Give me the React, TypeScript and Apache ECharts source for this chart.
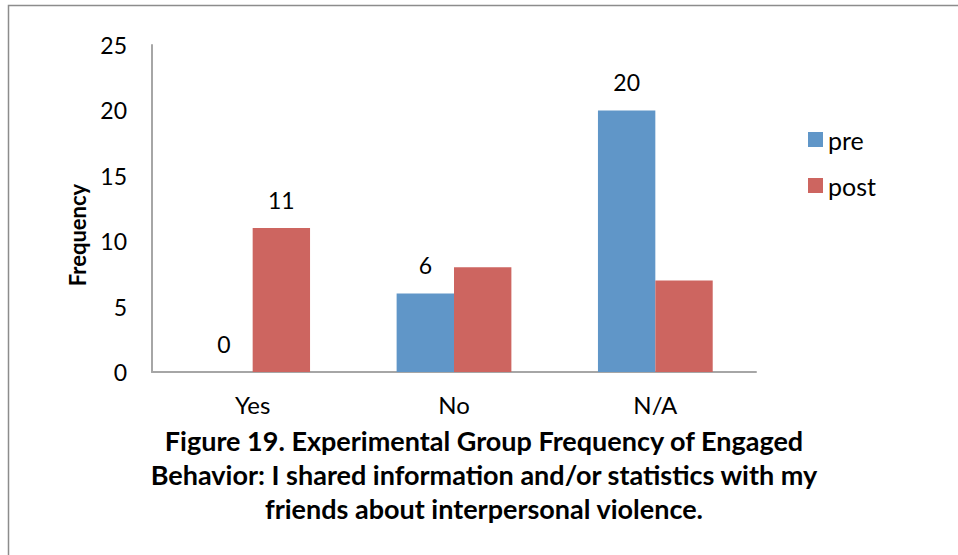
import React, { useEffect, useRef } from "react";
import * as echarts from "echarts";

const categories = ["Yes", "No", "N/A"];
const preValues = [0, 6, 20];
const postValues = [11, 8, 7];
const postLabelShown = [true, false, false];
const seriesNames = ["pre", "post"];
const titleLines = [
  "Figure 19. Experimental Group Frequency of Engaged",
  "Behavior: I shared information and/or statistics with my",
  "friends about interpersonal violence.",
];
const yAxisName = "Frequency";

const FONT = "Lato, 'Open Sans', sans-serif";

export default function App() {
  const ref = useRef<HTMLDivElement>(null);
  useEffect(() => {
    document.body.style.margin = "0";
    const chart = echarts.init(ref.current!, null, { renderer: "svg" });
    const labelStyle = {
      show: true,
      position: "top" as const,
      distance: 17,
      fontSize: 23,
      color: "#000",
      fontFamily: FONT,
    };
    chart.setOption({
      animation: false,
      backgroundColor: "#fff",
      textStyle: { fontFamily: FONT },
      grid: { left: 152, right: 202, top: 45, bottom: 183, containLabel: false },
      legend: {
        orient: "vertical",
        left: 808,
        top: 127,
        padding: 0,
        itemWidth: 15,
        itemHeight: 15,
        itemGap: 21,
        icon: "rect",
        textStyle: { fontSize: 25, color: "#000", fontFamily: FONT },
        data: seriesNames,
      },
      xAxis: {
        type: "category",
        data: categories,
        axisLine: { lineStyle: { color: "#a6a6a6", width: 2 } },
        axisTick: { show: false },
        axisLabel: { fontSize: 24, color: "#000", margin: 20, fontFamily: FONT },
      },
      yAxis: {
        type: "value",
        min: 0,
        max: 25,
        interval: 5,
        axisLine: { show: true, lineStyle: { color: "#a6a6a6", width: 2 } },
        axisTick: { show: false },
        splitLine: { show: false },
        axisLabel: { fontSize: 23, color: "#000", margin: 25, fontFamily: FONT },
      },
      series: [
        {
          name: seriesNames[0],
          type: "bar",
          data: preValues,
          barGap: "0%",
          barCategoryGap: "43%",
          itemStyle: { color: "#6096c8" },
          label: labelStyle,
        },
        {
          name: seriesNames[1],
          type: "bar",
          data: postValues.map((v, i) => ({ value: v, label: { show: postLabelShown[i] } })),
          itemStyle: { color: "#cd6560" },
          label: labelStyle,
        },
      ],
      graphic: [
        {
          type: "rect",
          shape: { x: 8.5, y: 5.5, width: 1000, height: 600 },
          style: { fill: "none", stroke: "#8c8c8c", lineWidth: 1.5 },
          silent: true,
        },
        {
          type: "text",
          x: 77,
          y: 235,
          rotation: Math.PI / 2,
          style: {
            text: yAxisName,
            fontSize: 22,
            fontWeight: "bold",
            fill: "#000",
            fontFamily: FONT,
            align: "center",
            verticalAlign: "middle",
          },
        },
        ...titleLines.map((line, i) => ({
          type: "text",
          x: 484,
          y: 440 + i * 34,
          style: {
            text: line,
            fontSize: 27,
            fontWeight: "bold",
            fill: "#000",
            fontFamily: FONT,
            align: "center",
            verticalAlign: "middle",
          },
        })),
      ],
    });
    return () => chart.dispose();
  }, []);
  return (
    <div
      ref={ref}
      style={{ position: "absolute", left: 0, top: 0, width: 958, height: 555 }}
    />
  );
}
